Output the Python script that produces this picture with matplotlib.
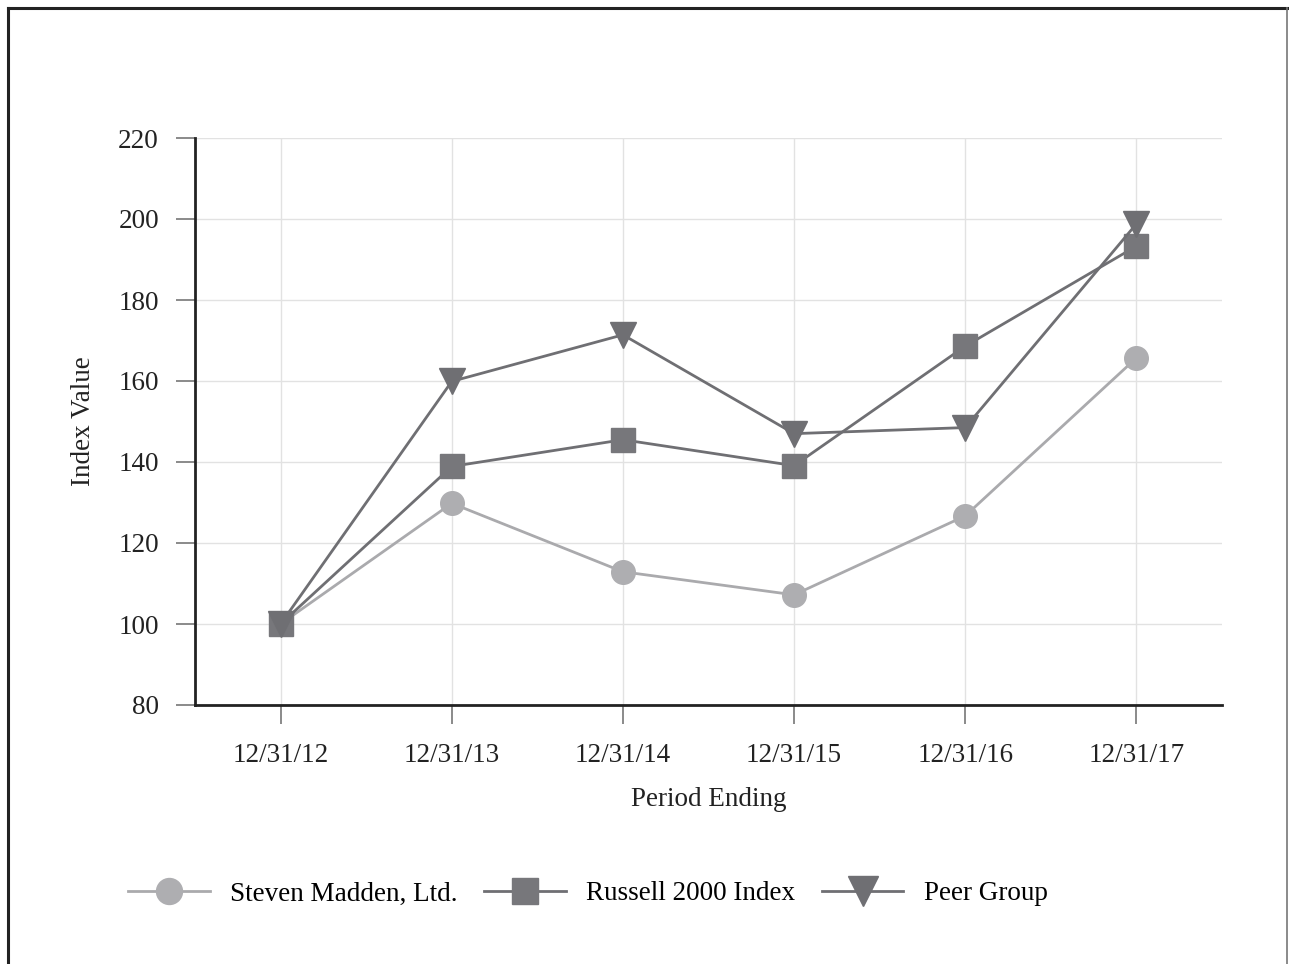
import matplotlib.pyplot as plt
from matplotlib.lines import Line2D

plt.rcParams['font.family'] = ['Liberation Serif', 'DejaVu Serif']

periods = ['12/31/12', '12/31/13', '12/31/14', '12/31/15', '12/31/16', '12/31/17']
madden = [100, 129.8, 112.9, 107.2, 126.7, 165.7]
russell = [100, 138.9, 145.5, 139.1, 168.6, 193.3]
peer = [100, 159.9, 171.4, 147.0, 148.5, 198.8]
yticks = [80, 100, 120, 140, 160, 180, 200, 220]

fig = plt.figure(figsize=(12.89, 9.64), dpi=100)
W, H = 1289, 964
ax = fig.add_axes([195 / W, 1 - 705 / H, (1222 - 195) / W, (705 - 138) / H])

x = range(len(periods))
ax.plot(x, madden, color='#aaaaad', lw=2, marker='o', ms=17, mfc='#aeaeb1', mec='#aeaeb1',
        label='Steven Madden, Ltd.', zorder=3)
ax.plot(x, russell, color='#6f6f73', lw=2, marker='s', ms=17, mfc='#77777b', mec='#77777b',
        label='Russell 2000 Index', zorder=4)
ax.plot(x, peer, color='#6f6f73', lw=2, marker='v', ms=19, mfc='#6f6f73', mec='#6f6f73',
        label='Peer Group', zorder=4)

ax.set_xlim(-0.5, 5.5)
ax.set_ylim(80, 220)
ax.set_xticks(list(x))
ax.set_xticklabels(periods)
ax.set_yticks(yticks)
ax.grid(True, color='#e2e2e2', lw=1)
ax.set_axisbelow(True)
for s in ['top', 'right']:
    ax.spines[s].set_visible(False)
for s in ['left', 'bottom']:
    ax.spines[s].set_color('#222222')
    ax.spines[s].set_linewidth(2)
ax.tick_params(axis='both', colors='#777777', length=14, width=1.2, labelsize=19.5,
               labelcolor='#222222')
ax.tick_params(axis='x', pad=13)
ax.tick_params(axis='y', pad=12)
ax.set_ylabel('Index Value', fontsize=19.5, color='#222222', labelpad=16)
ax.set_xlabel('Period Ending', fontsize=19.5, color='#222222', labelpad=14)

fig.legend(loc='center', bbox_to_anchor=(588 / W, 1 - 894 / H), ncol=3, frameon=False,
           fontsize=19.5, handlelength=3.0, columnspacing=1.0, handletextpad=0.75,
           numpoints=1, markerscale=1.1)

# page frame
fig.add_artist(Line2D([8 / W, 8 / W], [0, 1 - 8 / H], color='#222222', lw=2.2))
fig.add_artist(Line2D([8 / W, 1287 / W], [1 - 8 / H, 1 - 8 / H], color='#222222', lw=2.2))
fig.add_artist(Line2D([1287 / W, 1287 / W], [0, 1 - 8 / H], color='#777777', lw=1.2))

fig.savefig('out.png', dpi=100, facecolor='white')
